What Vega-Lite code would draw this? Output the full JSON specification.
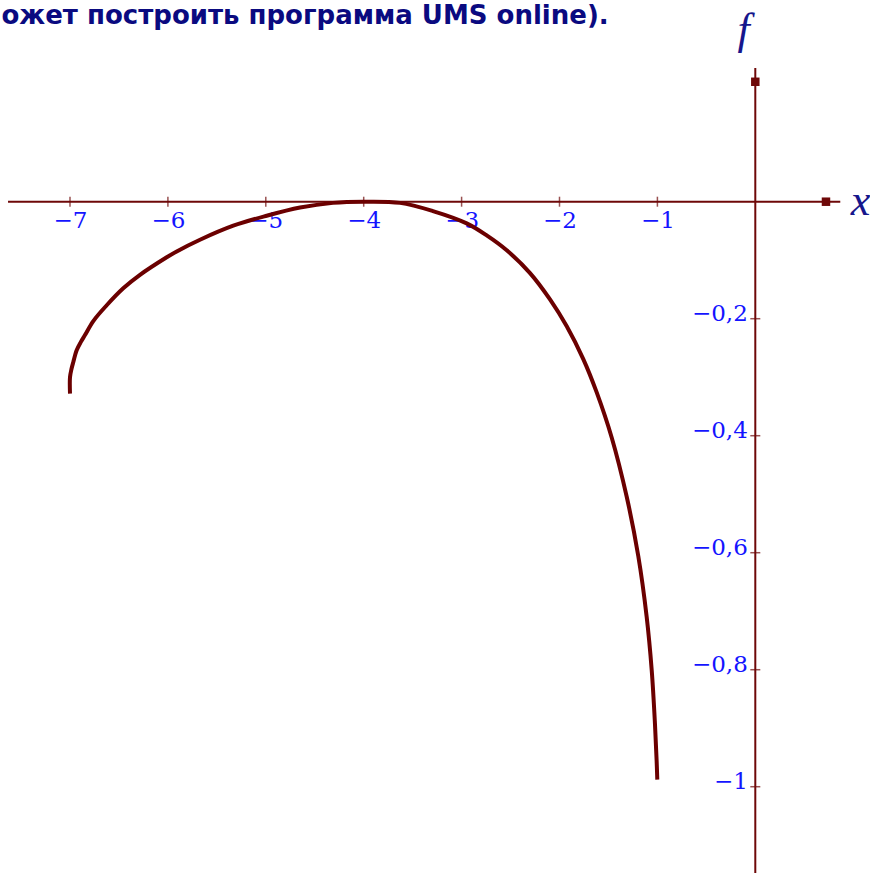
{
  "$schema": "https://vega.github.io/schema/vega-lite/v6.json",
  "width": 870,
  "height": 873,
  "padding": 0,
  "autosize": {"type": "none"},
  "background": "white",
  "config": {"view": {"stroke": null}},
  "datasets": {
    "curve": [
      {"order": 1, "x": -7.000, "f": -0.328},
      {"order": 2, "x": -7.000, "f": -0.300},
      {"order": 3, "x": -6.985, "f": -0.286},
      {"order": 4, "x": -6.966, "f": -0.274},
      {"order": 5, "x": -6.932, "f": -0.254},
      {"order": 6, "x": -6.890, "f": -0.240},
      {"order": 7, "x": -6.847, "f": -0.228},
      {"order": 8, "x": -6.762, "f": -0.204},
      {"order": 9, "x": -6.625, "f": -0.177},
      {"order": 10, "x": -6.456, "f": -0.148},
      {"order": 11, "x": -6.285, "f": -0.125},
      {"order": 12, "x": -6.012, "f": -0.095},
      {"order": 13, "x": -5.910, "f": -0.085},
      {"order": 14, "x": -5.672, "f": -0.065},
      {"order": 15, "x": -5.332, "f": -0.041},
      {"order": 16, "x": -4.991, "f": -0.024},
      {"order": 17, "x": -4.650, "f": -0.010},
      {"order": 18, "x": -4.314, "f": -0.002},
      {"order": 19, "x": -4.000, "f": 0.000},
      {"order": 20, "x": -3.629, "f": -0.002},
      {"order": 21, "x": -3.293, "f": -0.016},
      {"order": 22, "x": -2.948, "f": -0.037},
      {"order": 23, "x": -2.740, "f": -0.058},
      {"order": 24, "x": -2.539, "f": -0.083},
      {"order": 25, "x": -2.301, "f": -0.122},
      {"order": 26, "x": -2.097, "f": -0.167},
      {"order": 27, "x": -1.926, "f": -0.213},
      {"order": 28, "x": -1.757, "f": -0.269},
      {"order": 29, "x": -1.620, "f": -0.326},
      {"order": 30, "x": -1.467, "f": -0.403},
      {"order": 31, "x": -1.314, "f": -0.504},
      {"order": 32, "x": -1.195, "f": -0.606},
      {"order": 33, "x": -1.110, "f": -0.709},
      {"order": 34, "x": -1.058, "f": -0.801},
      {"order": 35, "x": -1.025, "f": -0.892},
      {"order": 36, "x": -1.008, "f": -0.955},
      {"order": 37, "x": -1.001, "f": -0.988}
    ],
    "axisLines": [
      {"x": -7.633, "x2": 0.868, "f": 0, "f2": 0},
      {"x": 0, "x2": 0, "f": 0.2285, "f2": -1.1475}
    ],
    "xTicks": [
      {"x": -7, "f": 0}, {"x": -6, "f": 0}, {"x": -5, "f": 0}, {"x": -4, "f": 0},
      {"x": -3, "f": 0}, {"x": -2, "f": 0}, {"x": -1, "f": 0}
    ],
    "fTicks": [
      {"x": 0, "f": -0.2}, {"x": 0, "f": -0.4}, {"x": 0, "f": -0.6},
      {"x": 0, "f": -0.8}, {"x": 0, "f": -1.0}
    ],
    "arrows": [
      {"x": 0.722, "f": 0},
      {"x": 0, "f": 0.205}
    ],
    "axisNames": [
      {"x": 1.075, "f": -0.0227, "label": "x"},
      {"x": -0.12, "f": 0.270, "label": "f"}
    ],
    "caption": [
      {"x": -7.70, "f": 0.3035, "label": "ожет построить программа UMS online)."}
    ]
  },
  "layer": [
    {
      "data": {"name": "axisLines"},
      "mark": {"type": "rule", "color": "#6E0808", "strokeWidth": 2},
      "encoding": {
        "x": {"field": "x", "type": "quantitative"},
        "x2": {"field": "x2"},
        "y": {"field": "f", "type": "quantitative"},
        "y2": {"field": "f2"}
      }
    },
    {
      "data": {"name": "xTicks"},
      "mark": {"type": "tick", "orient": "vertical", "color": "#6E0808", "thickness": 1.5},
      "encoding": {
        "x": {"field": "x", "type": "quantitative"},
        "y": {"field": "f", "type": "quantitative"},
        "size": {"value": 10}
      }
    },
    {
      "data": {"name": "fTicks"},
      "mark": {"type": "tick", "orient": "horizontal", "color": "#6E0808", "thickness": 1.5},
      "encoding": {
        "x": {"field": "x", "type": "quantitative"},
        "y": {"field": "f", "type": "quantitative"},
        "size": {"value": 10}
      }
    },
    {
      "data": {"name": "arrows"},
      "mark": {"type": "point", "shape": "square", "filled": true, "color": "#6E0808", "opacity": 1, "size": 72},
      "encoding": {
        "x": {"field": "x", "type": "quantitative"},
        "y": {"field": "f", "type": "quantitative"}
      }
    },
    {
      "data": {"name": "curve"},
      "mark": {"type": "line", "color": "#6B0000", "strokeWidth": 4, "interpolate": "catmull-rom", "strokeCap": "butt", "strokeJoin": "round"},
      "encoding": {
        "x": {
          "field": "x",
          "type": "quantitative",
          "scale": {"domain": [-7.715, 1.1716], "nice": false, "zero": false},
          "axis": {
            "values": [-7, -6, -5, -4, -3, -2, -1],
            "orient": "bottom",
            "offset": -671.3,
            "domain": false,
            "ticks": false,
            "tickSize": 0,
            "grid": false,
            "title": null,
            "labelExpr": "format(datum.value, 'd')",
            "labelPadding": 8,
            "labelBaseline": "top",
            "labelFont": "DejaVu Serif",
            "labelFontSize": 23,
            "labelColor": "#1414FF",
            "labelOverlap": false,
            "labelFlush": false,
            "labelBound": false
          }
        },
        "y": {
          "field": "f",
          "type": "quantitative",
          "scale": {"domain": [-1.1475, 0.3448], "nice": false, "zero": false},
          "axis": {
            "values": [-1, -0.8, -0.6, -0.4, -0.2],
            "orient": "left",
            "offset": -755.3,
            "domain": false,
            "ticks": false,
            "tickSize": 0,
            "grid": false,
            "title": null,
            "labelExpr": "replace(format(datum.value, '~g'), '.', ',')",
            "labelPadding": 8,
            "labelAlign": "right",
            "labelBaseline": "alphabetic",
            "labelOffset": 2,
            "labelFont": "DejaVu Serif",
            "labelFontSize": 23,
            "labelColor": "#1414FF",
            "labelOverlap": false,
            "labelFlush": false,
            "labelBound": false
          }
        },
        "order": {"field": "order", "type": "quantitative"}
      }
    },
    {
      "data": {"name": "axisNames"},
      "mark": {"type": "text", "font": "Liberation Serif", "fontStyle": "italic", "fontSize": 44, "color": "#16168C", "align": "center", "baseline": "alphabetic"},
      "encoding": {
        "x": {"field": "x", "type": "quantitative"},
        "y": {"field": "f", "type": "quantitative"},
        "text": {"field": "label"}
      }
    },
    {
      "data": {"name": "caption"},
      "mark": {"type": "text", "font": "DejaVu Sans", "fontWeight": "bold", "fontSize": 26, "color": "#0A0A80", "align": "left", "baseline": "alphabetic"},
      "encoding": {
        "x": {"field": "x", "type": "quantitative"},
        "y": {"field": "f", "type": "quantitative"},
        "text": {"field": "label"}
      }
    }
  ]
}
